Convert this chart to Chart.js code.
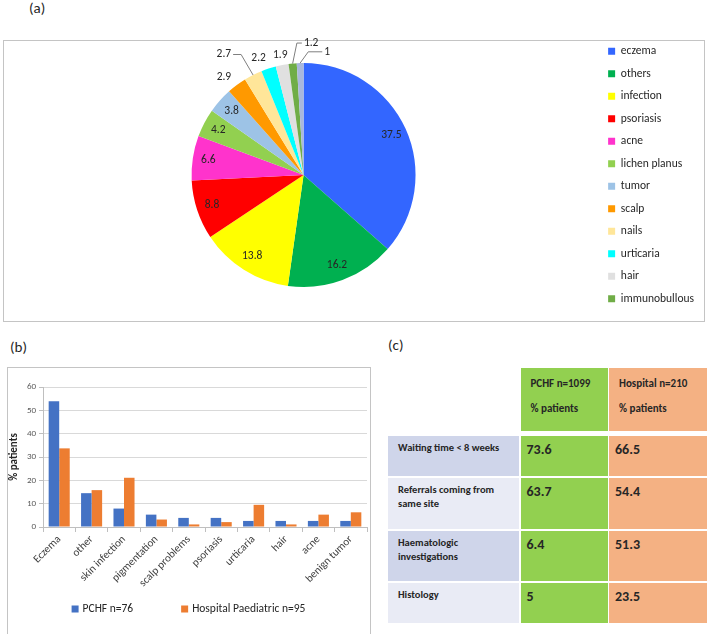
<!DOCTYPE html>
<html>
<head>
<meta charset="utf-8">
<script src="https://cdn.jsdelivr.net/npm/chart.js@4.4.1/dist/chart.umd.min.js"></script>
<style>
  body { margin: 0; width: 709px; height: 634px; position: relative; overflow: hidden; background: #fff;
         font-family: Carlito, Calibri, Lato, sans-serif; color: #262626; }
  .tag { position: absolute; font-size: 15px; line-height: 16px; }
  .box { position: absolute; border: 1px solid #c4c4c4; box-sizing: border-box; }
  canvas { position: absolute; }
  #tbl { position: absolute; left: 388px; top: 368px; display: grid;
         grid-template-columns: 131px 87px 98px; grid-template-rows: 66px 40px 51px 50px 40px;
         column-gap: 1.5px; row-gap: 2px; }
  #tbl div { box-sizing: border-box; font-weight: bold; }
  .head { height: 63px; padding: 3px 0 0 10px; font-size: 11px; line-height: 25px; }
  .lab { padding: 5px 6px 0 10px; font-size: 10.5px; line-height: 14px; }
  .val { padding: 6px 0 0 6px; font-size: 14px; line-height: 16px; }
  .green { background: #92D050; }
  .peach { background: #F4B183; }
</style>
</head>
<body>
<div class="tag" style="left:29px;top:0px">(a)</div>
<div class="box" style="left:3px;top:40px;width:702px;height:282px"></div>
<canvas id="pie" width="700" height="310" style="left:4px;top:20px"></canvas>

<div class="tag" style="left:10px;top:339px">(b)</div>
<div class="box" style="left:7px;top:367px;width:364px;height:268px"></div>
<canvas id="bars" width="361" height="264" style="left:8px;top:368px"></canvas>

<div class="tag" style="left:388px;top:337px">(c)</div>
<div id="tbl"></div>

<script>
// (a) referral reasons, % of patients
const topics = ['eczema', 'others', 'infection', 'psoriasis', 'acne', 'lichen planus', 'tumor',
  'scalp', 'nails', 'urticaria', 'hair', 'immunobullous', 'miscellaneous'];
const topicShares = [37.5, 16.2, 13.8, 8.8, 6.6, 4.2, 3.8, 2.9, 2.7, 2.2, 1.9, 1.2, 1];
const topicColors = ['#3366FF', '#00B050', '#FFFF00', '#FF0000', '#FF33CC', '#92D050', '#9DC3E6',
  '#FF9900', '#FFE699', '#00FFFF', '#E0E0E0', '#70AD47', '#A9B8DC'];
const legendCount = 12;

// (b) complaints by site
const complaints = ['Eczema', 'other', 'skin infection', 'pigmentation', 'scalp problems',
  'psoriasis', 'urticaria', 'hair', 'acne', 'benign tumor'];
const pchfShares = [53.9, 14.5, 7.9, 5.3, 3.9, 3.9, 2.6, 2.6, 2.6, 2.6];
const hospitalShares = [33.7, 15.8, 21.1, 3.2, 1.1, 2.1, 9.5, 1.1, 5.3, 6.3];
const yTicks = [0, 10, 20, 30, 40, 50, 60];

// (c) table
const tableHeads = ['PCHF n=1099', 'Hospital n=210'];
const tableUnit = '% patients';
const measures = ['Waiting time < 8 weeks', 'Referrals coming from same site', 'Haematologic investigations', 'Histology'];
const pchfMeasures = ['73.6', '63.7', '6.4', '5'];
const hospitalMeasures = ['66.5', '54.4', '51.3', '23.5'];

const FONT = 'Carlito, Calibri, Lato, sans-serif';
Chart.defaults.font.family = FONT;

// where the small slices put their numbers (outside the pie)
const outside = [null, null, null, null, null, null, null,
  { dist: 1.13, shift: -2.4 },
  { dist: 1.29, shift: -6.7, leader: 8 },
  { dist: 1.12, shift: -2.8 },
  { dist: 1.09, shift: 0 },
  { dist: 1.18, shift: 8.9, leader: 5 },
  { dist: 1.12, shift: 12.6, leader: 14 }];

const pieLabels = {
  id: 'pieLabels',
  afterDatasetsDraw(chart) {
    const ctx = chart.ctx;
    const meta = chart.getDatasetMeta(0);
    ctx.save();
    ctx.font = '11.5px ' + FONT;
    ctx.fillStyle = '#262626';
    ctx.strokeStyle = '#7f7f7f';
    ctx.lineWidth = 1;
    ctx.textAlign = 'center';
    ctx.textBaseline = 'middle';
    meta.data.forEach((arc, i) => {
      const p = arc.getProps(['x', 'y', 'startAngle', 'endAngle', 'outerRadius'], true);
      const mid = (p.startAngle + p.endAngle) / 2;
      const text = String(topicShares[i]);
      const o = outside[i];
      if (!o) {
        const d = p.outerRadius * 0.86;
        ctx.fillText(text, p.x + Math.cos(mid) * d, p.y + Math.sin(mid) * d);
        return;
      }
      const a = mid + o.shift * Math.PI / 180;
      const lx = p.x + Math.cos(a) * p.outerRadius * o.dist;
      const ly = p.y + Math.sin(a) * p.outerRadius * o.dist;
      ctx.fillText(text, lx, ly);
      if (o.leader) {
        const ex = p.x + Math.cos(mid) * p.outerRadius;
        const ey = p.y + Math.sin(mid) * p.outerRadius;
        const side = ex > lx ? 1 : -1;
        const sx = lx + side * (ctx.measureText(text).width / 2 + 2);
        ctx.beginPath();
        ctx.moveTo(sx, ly);
        ctx.lineTo(sx + side * o.leader, ly);
        ctx.lineTo(ex, ey);
        ctx.stroke();
      }
    });
    ctx.restore();
  }
};

// bottom legend of (b) with the wide gap Excel uses between the entries
const wideLegend = {
  id: 'wideLegend',
  afterDraw(chart) {
    const ctx = chart.ctx;
    const sets = chart.data.datasets;
    const gap = 48, box = 7, y = 241;
    ctx.save();
    ctx.font = '11.5px ' + FONT;
    ctx.fillStyle = '#262626';
    ctx.textBaseline = 'middle';
    const widths = sets.map(s => box + 4 + ctx.measureText(s.label).width);
    const total = widths.reduce((a, b) => a + b, 0) + gap * (sets.length - 1);
    let x = (chart.width - total) / 2;
    sets.forEach((s, i) => {
      ctx.fillStyle = s.backgroundColor;
      ctx.fillRect(x, y - box / 2, box, box);
      ctx.fillStyle = '#262626';
      ctx.fillText(s.label, x + box + 4, y);
      x += widths[i] + gap;
    });
    ctx.restore();
  }
};

new Chart(document.getElementById('pie'), {
  type: 'pie',
  data: {
    labels: topics,
    datasets: [{ data: topicShares, backgroundColor: topicColors, borderWidth: 0, radius: 112, hoverOffset: 0 }]
  },
  options: {
    responsive: false,
    animation: false,
    layout: { padding: { left: 6, right: 0, top: 0, bottom: 0 } },
    plugins: {
      tooltip: { enabled: false },
      legend: {
        position: 'right',
        labels: {
          boxWidth: 7, boxHeight: 7, padding: 11, color: '#262626',
          font: { size: 11.5, lineHeight: '11px' },
          filter: item => item.index < legendCount
        }
      }
    }
  },
  plugins: [pieLabels]
});

new Chart(document.getElementById('bars'), {
  type: 'bar',
  data: {
    labels: complaints,
    datasets: [
      { label: 'PCHF n=76', data: pchfShares, backgroundColor: '#4472C4' },
      { label: 'Hospital Paediatric n=95', data: hospitalShares, backgroundColor: '#ED7D31' }
    ]
  },
  options: {
    responsive: false,
    animation: false,
    categoryPercentage: 0.65,
    barPercentage: 1,
    layout: { padding: { top: 19, right: 2, bottom: 35, left: 0 } },
    plugins: {
      tooltip: { enabled: false },
      legend: { display: false }
    },
    scales: {
      x: {
        grid: { offset: true, drawOnChartArea: false, tickLength: 5, color: '#bfbfbf' },
        border: { color: '#bfbfbf' },
        ticks: { minRotation: 45, maxRotation: 45, color: '#404040', font: { size: 11 }, padding: 1 },
        afterFit(s) { s.height = 70; }
      },
      y: {
        min: yTicks[0], max: yTicks[yTicks.length - 1],
        afterBuildTicks(s) { s.ticks = yTicks.map(v => ({ value: v })); },
        ticks: { color: '#595959', font: { size: 9 }, padding: 3 },
        grid: { color: '#d9d9d9', tickLength: 4, tickColor: '#bfbfbf' },
        border: { color: '#bfbfbf' },
        title: { display: true, text: '% patients', color: '#262626', font: { size: 11, weight: 'bold' }, padding: 0 },
        afterFit(s) { s.width = 35; }
      }
    }
  },
  plugins: [wideLegend]
});

// table (c)
const tbl = document.getElementById('tbl');
function cell(cls, html) {
  const d = document.createElement('div');
  d.className = cls;
  d.innerHTML = html;
  tbl.appendChild(d);
}
cell('', '');
cell('head green', tableHeads[0] + '<br>' + tableUnit);
cell('head peach', tableHeads[1] + '<br>' + tableUnit);
measures.forEach((m, i) => {
  const d = document.createElement('div');
  d.className = 'lab';
  d.style.background = i % 2 === 0 ? '#CFD5EA' : '#E9EBF5';
  d.textContent = m;
  tbl.appendChild(d);
  cell('val green', pchfMeasures[i]);
  cell('val peach', hospitalMeasures[i]);
});
</script>
</body>
</html>
